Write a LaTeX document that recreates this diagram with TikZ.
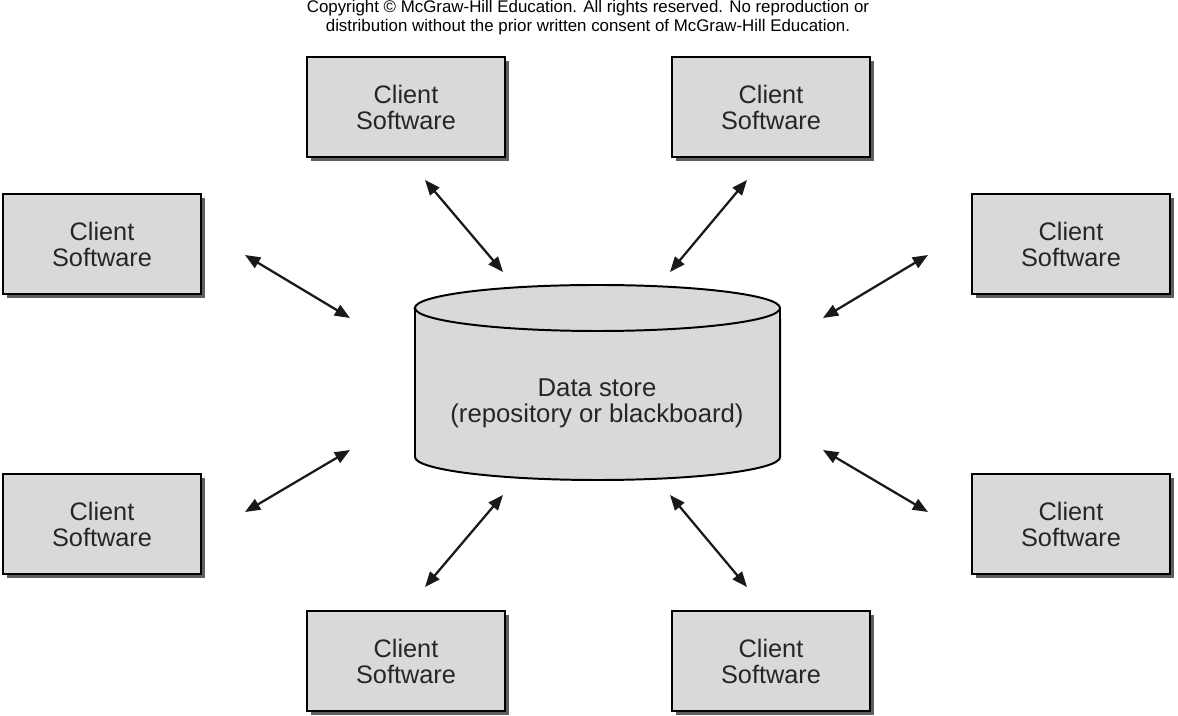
\documentclass[tikz,border=0pt]{standalone}
\usepackage{fontspec}
\setmainfont{Liberation Sans}
\usepackage{tikz}
\usetikzlibrary{arrows.meta, positioning, shadows}

\begin{document}
\begin{tikzpicture}[
  x=0.025cm, y=0.025cm,
  client/.style={rectangle, draw=black, line width=1.4pt, fill=black!15,
                 minimum width=4.95cm, minimum height=2.5cm,
                 font=\fontsize{18}{18.5}\selectfont, text=black!85, align=center,
                 drop shadow={shadow xshift=3pt, shadow yshift=-3pt,
                              fill=black!70, opacity=0.9}},
  storefill/.style={fill=black!15},
  biarr/.style={{Triangle[length=0.38cm,width=0.3cm]}-{Triangle[length=0.38cm,width=0.3cm]},
                line width=1.6pt, black!90},
]
\useasboundingbox (0,0) rectangle (1178,716);

% copyright line
\node[font=\fontsize{12}{13.5}\selectfont, align=center] (copy) at (588,698)
  {Copyright \textcopyright\ McGraw-Hill Education. All rights reserved. No reproduction or\\
   distribution without the prior written consent of McGraw-Hill Education.};

% client boxes
\node[client] (client1) at (406,609) {Client\\Software};
\node[client] (client2) at (771,609) {Client\\Software};
\node[client] (client3) at (102,472) {Client\\Software};
\node[client] (client4) at (1071,472) {Client\\Software};
\node[client] (client5) at (102,192) {Client\\Software};
\node[client] (client6) at (1071,192) {Client\\Software};
\node[client] (client7) at (406,55) {Client\\Software};
\node[client] (client8) at (771,55) {Client\\Software};

% data store cylinder
\filldraw[storefill, line width=1.4pt] (415,408) -- (415,259) arc (180:360:4.5625cm and 0.575cm)
  -- (780,408) arc (0:180:4.5625cm and 0.575cm) -- cycle;
\draw[line width=1.4pt] (415,408) arc (180:360:4.5625cm and 0.575cm);
\node[font=\fontsize{18.3}{18.5}\selectfont, text=black!85, align=center] (store) at (597,313)
  {Data store\\(repository or blackboard)};

% arrow ends
\coordinate (a1) at (425,536); \coordinate (b1) at (503,444);
\coordinate (a2) at (747,536); \coordinate (b2) at (670,444);
\coordinate (a3) at (245,461); \coordinate (b3) at (350,398);
\coordinate (a4) at (928,461); \coordinate (b4) at (823,398);
\coordinate (a5) at (245,204); \coordinate (b5) at (350,266);
\coordinate (a6) at (928,204); \coordinate (b6) at (823,266);
\coordinate (a7) at (425,129); \coordinate (b7) at (503,221);
\coordinate (a8) at (747,129); \coordinate (b8) at (670,221);

\foreach \i in {1,...,8}
  \draw[biarr] (a\i) -- (b\i);

\end{tikzpicture}
\end{document}
